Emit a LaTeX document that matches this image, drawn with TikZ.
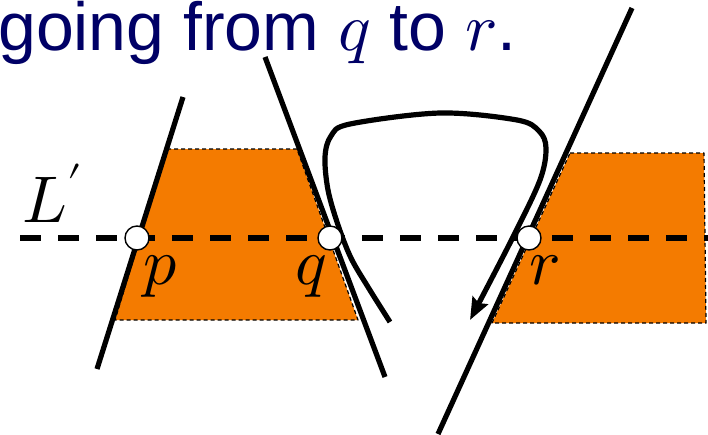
\documentclass[tikz,border=0pt]{standalone}
\usepackage{unicode-math}
\setmainfont{Liberation Sans}
\setmathfont{Latin Modern Math}
\usetikzlibrary{arrows.meta}
\definecolor{slide-navy}{HTML}{000066}
\definecolor{slide-orange}{HTML}{F47B00}
\tikzset{
  region/.style={fill=slide-orange, draw=black, line width=1.2pt, dash pattern=on 4pt off 3pt},
  sweepline/.style={line width=5.2pt},
  crosspt/.style={circle, draw=black, line width=1.4pt, fill=white, minimum size=24pt, inner sep=0pt},
  ptlabel/.style={font=\fontsize{66}{68}\selectfont, inner sep=0pt}
}
\begin{document}
\begin{tikzpicture}[x=1pt, y=-1pt, >=Stealth, line cap=butt, line join=round]
  \useasboundingbox (0,0) rectangle (708,434);
  % titel
  \node[anchor=base west, inner sep=0pt, text=slide-navy, font=\fontsize{68}{72}\selectfont]
    (title) at (-2,50) {going from $q$ to $r$.};
  % oranje gebieden
  \draw[region] (167,149) -- (297,149) -- (358,320) -- (115,320) -- cycle;
  \draw[region] (570,153) -- (704,153) -- (706,323) -- (492,323) -- cycle;
  % lijnen
  \coordinate (p top) at (183,97);
  \coordinate (p bot) at (97,369);
  \coordinate (q top) at (265,57);
  \coordinate (q bot) at (385,377);
  \coordinate (r top) at (632,8);
  \coordinate (r bot) at (438,434);
  \draw[sweepline] (p top) -- (p bot);
  \draw[sweepline] (q top) -- (q bot);
  \draw[sweepline] (r top) -- (r bot);
  % kromme
  \draw[sweepline, -{Stealth[length=22pt, width=17pt, inset=3pt]}]
    plot[smooth, tension=0.55] coordinates {(390,322) (368,287) (351,258) (338,225)
      (328,190) (325,157) (331,136) (350,124) (440,113) (517,120) (539,131)
      (546,148) (540,180) (513,237) (470,320)};
  % L'
  \coordinate (L west) at (20,238);
  \coordinate (L east) at (708,238);
  \draw[line width=5.5pt, dash pattern=on 21pt off 17pt] (L west) -- (L east);
  \node[ptlabel, anchor=base] (Llab) at (52,222) {$L'$};
  % snijpunten
  \node[crosspt] (p) at (137,238) {};
  \node[crosspt] (q) at (330,238) {};
  \node[crosspt] (r) at (529,238) {};
  \node[ptlabel, anchor=base] (plab) at (161,284) {$p$};
  \node[ptlabel, anchor=base] (qlab) at (311,284) {$q$};
  \node[ptlabel, anchor=base] (rlab) at (545,284) {$r$};
\end{tikzpicture}
\end{document}
